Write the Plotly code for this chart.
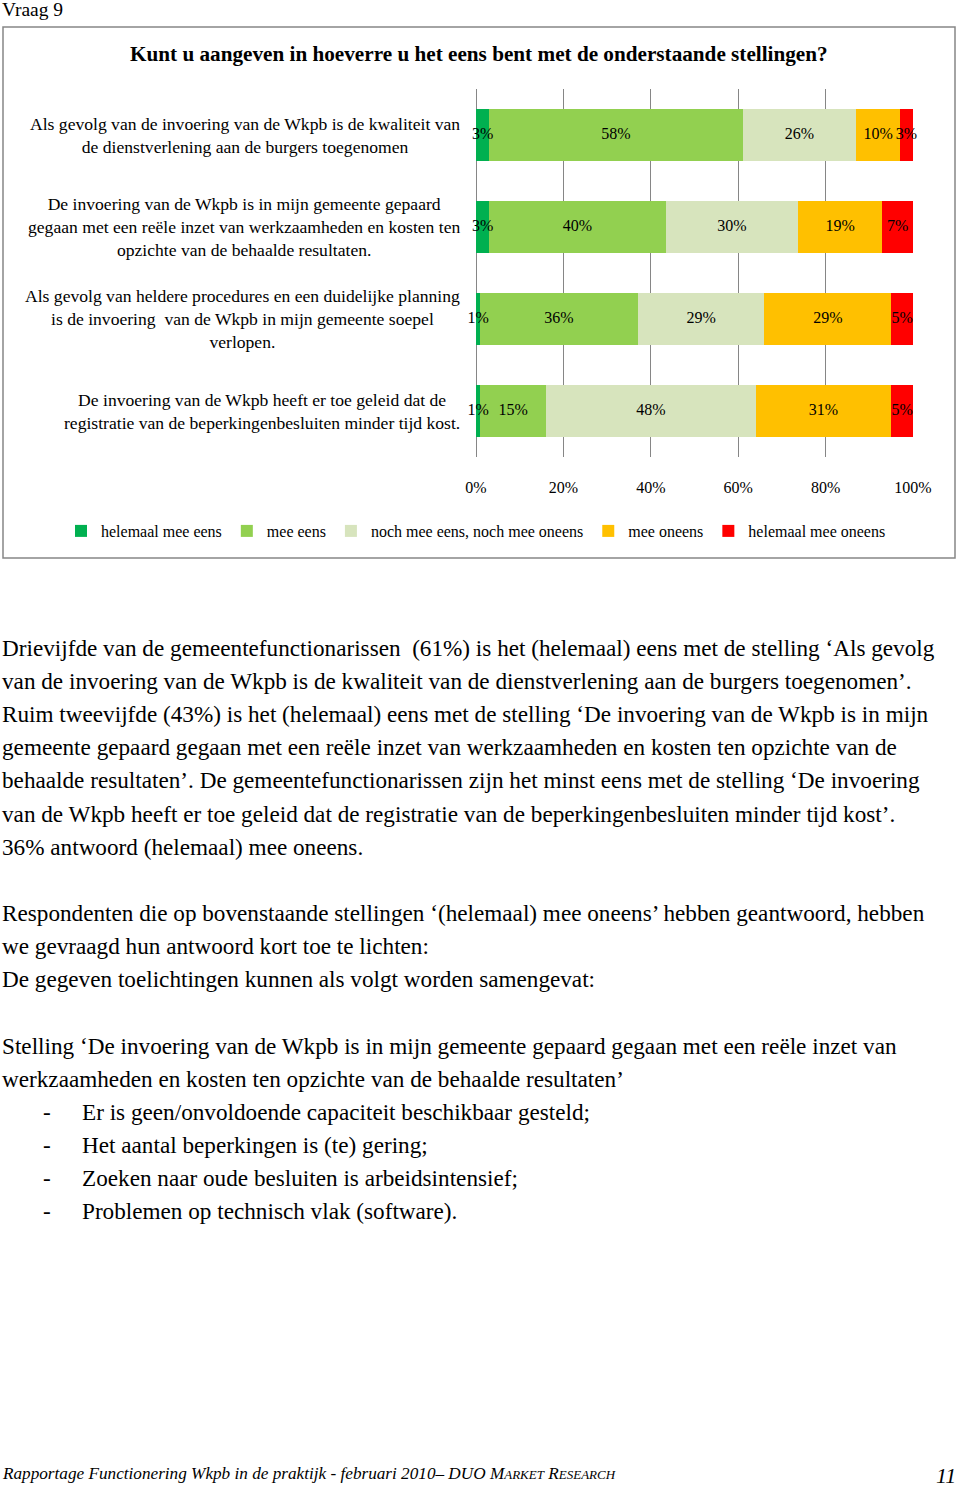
import plotly.graph_objects as go

W, H = 960, 1488

# statements (y categories), top to bottom
statements = [
    "Als gevolg van de invoering van de Wkpb is de kwaliteit van<br>de dienstverlening aan de burgers toegenomen",
    "De invoering van de Wkpb is in mijn gemeente gepaard<br>gegaan met een reële inzet van werkzaamheden en kosten ten<br>opzichte van de behaalde resultaten.",
    "Als gevolg van heldere procedures en een duidelijke planning<br>is de invoering  van de Wkpb in mijn gemeente soepel<br>verlopen.",
    "De invoering van de Wkpb heeft er toe geleid dat de<br>registratie van de beperkingenbesluiten minder tijd kost.",
]

answers = ["helemaal mee eens", "mee eens", "noch mee eens, noch mee oneens", "mee oneens", "helemaal mee oneens"]
colors = ["#00B050", "#92D050", "#D7E4BD", "#FFC000", "#FF0000"]

helemaal_eens = [3, 3, 1, 1]
mee_eens = [58, 40, 36, 15]
neutraal = [26, 30, 29, 48]
mee_oneens = [10, 19, 29, 31]
helemaal_oneens = [3, 7, 5, 5]
series = [helemaal_eens, mee_eens, neutraal, mee_oneens, helemaal_oneens]

x_ticks = [0, 20, 40, 60, 80, 100]
x_tick_labels = ["0%", "20%", "40%", "60%", "80%", "100%"]

body_1 = [
    "Drievijfde van de gemeentefunctionarissen  (61%) is het (helemaal) eens met de stelling ‘Als gevolg",
    "van de invoering van de Wkpb is de kwaliteit van de dienstverlening aan de burgers toegenomen’.",
    "Ruim tweevijfde (43%) is het (helemaal) eens met de stelling ‘De invoering van de Wkpb is in mijn",
    "gemeente gepaard gegaan met een reële inzet van werkzaamheden en kosten ten opzichte van de",
    "behaalde resultaten’. De gemeentefunctionarissen zijn het minst eens met de stelling ‘De invoering",
    "van de Wkpb heeft er toe geleid dat de registratie van de beperkingenbesluiten minder tijd kost’.",
    "36% antwoord (helemaal) mee oneens.",
]
body_2 = [
    "Respondenten die op bovenstaande stellingen ‘(helemaal) mee oneens’ hebben geantwoord, hebben",
    "we gevraagd hun antwoord kort toe te lichten:",
    "De gegeven toelichtingen kunnen als volgt worden samengevat:",
]
body_3 = [
    "Stelling ‘De invoering van de Wkpb is in mijn gemeente gepaard gegaan met een reële inzet van",
    "werkzaamheden en kosten ten opzichte van de behaalde resultaten’",
]
bullets = [
    "Er is geen/onvoldoende capaciteit beschikbaar gesteld;",
    "Het aantal beperkingen is (te) gering;",
    "Zoeken naar oude besluiten is arbeidsintensief;",
    "Problemen op technisch vlak (software).",
]

SERIF = "Liberation Serif"


def px(x):
    return x / W


def py(y):
    return 1 - y / H


fig = go.Figure()
for name, vals, col in zip(answers, series, colors):
    fig.add_trace(go.Bar(
        y=statements, x=vals, name=name, orientation="h",
        marker=dict(color=col, line=dict(width=0)),
        hoverinfo="skip",
    ))

# segment labels, centred in each (normalised) segment, allowed to overflow like the original
lab_x, lab_y, lab_t = [], [], []
for i, s in enumerate(statements):
    row = [ser[i] for ser in series]
    total = sum(row)
    cum = 0
    for v in row:
        lab_x.append((cum + v / 2) / total * 100)
        lab_y.append(s)
        lab_t.append(f"{v}%")
        cum += v
fig.add_trace(go.Scatter(
    x=lab_x, y=lab_y, text=lab_t, mode="text", showlegend=False, cliponaxis=False,
    textposition="middle center", textfont=dict(family=SERIF, size=16, color="black"),
    hoverinfo="skip",
))

annotations = []
for s in statements:
    annotations.append(dict(
        xref="paper", yref="y", x=px(462), y=s, text=s, showarrow=False,
        xanchor="right", yanchor="middle", align="center",
        font=dict(family=SERIF, size=17.6, color="black"),
    ))

annotations.append(dict(
    xref="paper", yref="paper", x=px(0), y=py(9), text="Vraag 9", showarrow=False,
    xanchor="left", yanchor="middle", font=dict(family=SERIF, size=19.5, color="black"),
))
annotations.append(dict(
    xref="paper", yref="paper", x=px(479), y=py(54),
    text="<b>Kunt u aangeven in hoeverre u het eens bent met de onderstaande stellingen?</b>",
    showarrow=False, xanchor="center", yanchor="middle",
    font=dict(family=SERIF, size=21.2, color="black"),
))


def add_lines(lines, x0, y0, step=33.1):
    for i, line in enumerate(lines):
        annotations.append(dict(
            xref="paper", yref="paper", x=px(x0), y=py(y0 + i * step), text=line,
            showarrow=False, xanchor="left", yanchor="middle",
            font=dict(family=SERIF, size=23.2, color="black"),
        ))


add_lines(body_1, 0, 648)
add_lines(body_2, 0, 913)
add_lines(body_3, 0, 1046)
add_lines(bullets, 80, 1112)
add_lines(["-"] * len(bullets), 41, 1112)

annotations.append(dict(
    xref="paper", yref="paper", x=px(0), y=py(1473),
    text="<i>Rapportage Functionering Wkpb in de praktijk - februari 2010– DUO M<span style='font-size:13px'>ARKET</span> R<span style='font-size:13px'>ESEARCH</span></i>",
    showarrow=False, xanchor="left", yanchor="middle",
    font=dict(family=SERIF, size=17.2, color="black"),
))
annotations.append(dict(
    xref="paper", yref="paper", x=px(958), y=py(1475), text="<i>11</i>",
    showarrow=False, xanchor="right", yanchor="middle",
    font=dict(family=SERIF, size=22, color="black"),
))

fig.update_layout(
    width=W, height=H, autosize=False,
    margin=dict(l=0, r=0, t=0, b=0, autoexpand=False),
    paper_bgcolor="white", plot_bgcolor="white",
    barmode="stack", barnorm="percent", bargap=0.435,
    xaxis=dict(
        domain=[px(476), px(913)], range=[0, 100], automargin=False,
        tickmode="array", tickvals=x_ticks, ticktext=x_tick_labels,
        showgrid=True, gridcolor="#868686", gridwidth=1,
        zeroline=True, zerolinecolor="#868686", zerolinewidth=1,
        showline=False, ticks="", ticklabelstandoff=19,
        tickfont=dict(family=SERIF, size=16, color="black"),
    ),
    yaxis=dict(
        domain=[py(457), py(89)], autorange="reversed", showticklabels=False,
        showgrid=False, zeroline=False, showline=False, ticks="", automargin=False,
    ),
    legend=dict(
        orientation="h", x=px(476), y=py(531), xanchor="center", yanchor="middle",
        font=dict(family=SERIF, size=16, color="black"), traceorder="normal",
        bgcolor="rgba(0,0,0,0)",
    ),
    showlegend=True,
    annotations=annotations,
    shapes=[dict(
        type="rect", xref="paper", yref="paper",
        x0=px(3), x1=px(955), y0=py(558), y1=py(27),
        line=dict(color="#868686", width=1.5), fillcolor="rgba(0,0,0,0)",
    )],
)

fig.write_html("out.html", config={"displayModeBar": False},
               post_script="document.body.style.margin='0';")
